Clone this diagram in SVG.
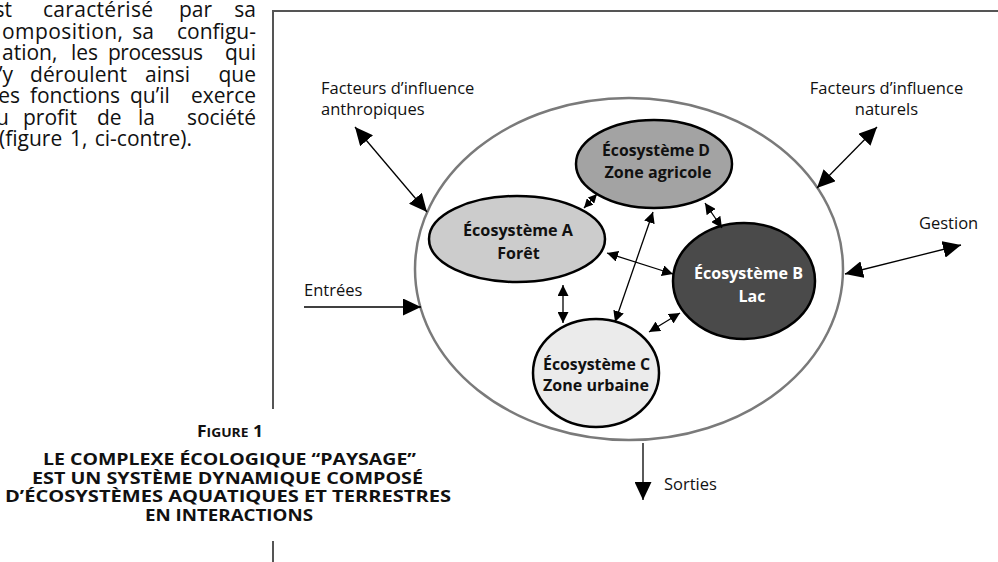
<svg xmlns="http://www.w3.org/2000/svg" width="998" height="562" viewBox="0 0 998 562">
<style>
  .para text { font-family: "Open Sans", "Noto Sans", "DejaVu Sans", sans-serif; font-size: 21px; fill: #111; }
  .para .e { text-anchor: end; }
  .lbl { font-family: "Open Sans", "Noto Sans", "DejaVu Sans", sans-serif; font-size: 16.5px; fill: #111; }
  .node { font-family: "Open Sans", "Noto Sans", "DejaVu Sans", sans-serif; font-size: 16px; font-weight: bold; fill: #111; text-anchor: middle; }
  .cap { font-family: "Open Sans", "Noto Sans", "DejaVu Sans", sans-serif; font-size: 16.5px; font-weight: bold; fill: #111; text-anchor: middle; }
  .frame { fill: none; stroke: #555; stroke-width: 2; }
  .eco { stroke: #000; stroke-width: 2.5; }
  .conn line { stroke: #000; stroke-width: 1.3; }
</style>
<defs>
  <marker id="big" viewBox="0 0 18 17" markerWidth="18" markerHeight="17" refX="18" refY="8.5" orient="auto-start-reverse" markerUnits="userSpaceOnUse">
    <path d="M0,0 L18,8.5 L0,17 z" fill="#000"/>
  </marker>
  <marker id="sm" viewBox="0 0 11 11" markerWidth="11" markerHeight="11" refX="11" refY="5.5" orient="auto-start-reverse" markerUnits="userSpaceOnUse">
    <path d="M0,0 L11,5.5 L0,11 z" fill="#000"/>
  </marker>
  <marker id="tiny" viewBox="0 0 9 9" markerWidth="9" markerHeight="9" refX="9" refY="4.5" orient="auto-start-reverse" markerUnits="userSpaceOnUse">
    <path d="M0,0 L9,4.5 L0,9 z" fill="#000"/>
  </marker>
</defs>

<g id="paragraph" class="para">
  <text class="e" x="12" y="17">st</text>
  <text x="43" y="17" textLength="110" lengthAdjust="spacing">caractérisé</text>
  <text x="179" y="17">par</text>
  <text class="e" x="256" y="17">sa</text>

  <text x="2" y="38.5" textLength="121" lengthAdjust="spacing">omposition,</text>
  <text class="e" x="154" y="38.5">sa</text>
  <text class="e" x="256" y="38.5">configu-</text>

  <text x="2" y="60">ation,</text>
  <text x="71" y="60">les</text>
  <text x="108" y="60" textLength="95" lengthAdjust="spacing">processus</text>
  <text class="e" x="256" y="60">qui</text>

  <text class="e" x="13" y="81.5">’y</text>
  <text x="30" y="81.5" textLength="97" lengthAdjust="spacing">déroulent</text>
  <text x="145" y="81.5">ainsi</text>
  <text class="e" x="256" y="81.5">que</text>

  <text class="e" x="20" y="103">es</text>
  <text x="30" y="103" textLength="90" lengthAdjust="spacing">fonctions</text>
  <text x="130" y="103">qu’il</text>
  <text class="e" x="256" y="103">exerce</text>

  <text class="e" x="9" y="124.5">u</text>
  <text x="23" y="124.5">profit</text>
  <text x="97" y="124.5">de</text>
  <text x="138" y="124.5">la</text>
  <text class="e" x="256" y="124.5">société</text>

  <text x="-1" y="146">(figure</text>
  <text x="70" y="146">1,</text>
  <text class="e" x="192" y="146">ci-contre).</text>
</g>

<g id="frame">
  <path class="frame" d="M273,409 V11 H998"/>
  <path class="frame" d="M273,541 V562"/>
</g>

<g id="caption">
  <text class="cap" x="230" y="437" textLength="66" lengthAdjust="spacingAndGlyphs">F<tspan font-size="13">IGURE</tspan> 1</text>
  <text class="cap" x="229.5" y="465" textLength="373" lengthAdjust="spacingAndGlyphs">LE COMPLEXE ÉCOLOGIQUE “PAYSAGE”</text>
  <text class="cap" x="227.5" y="483.5" textLength="391" lengthAdjust="spacingAndGlyphs">EST UN SYSTÈME DYNAMIQUE COMPOSÉ</text>
  <text class="cap" x="228" y="502" textLength="446" lengthAdjust="spacingAndGlyphs">D’ÉCOSYSTÈMES AQUATIQUES ET TERRESTRES</text>
  <text class="cap" x="229" y="520.5" textLength="168" lengthAdjust="spacingAndGlyphs">EN INTERACTIONS</text>
</g>

<g id="paysage">
  <ellipse cx="629" cy="269" rx="214" ry="171" fill="none" stroke="#7a7a7a" stroke-width="2.5"/>
</g>

<g id="eco-a">
  <ellipse class="eco" cx="517" cy="239" rx="88" ry="43" fill="#cccccc"/>
  <text class="node" x="518" y="236" textLength="110" lengthAdjust="spacingAndGlyphs">Écosystème A</text>
  <text class="node" x="518.5" y="258.5">Forêt</text>
</g>
<g id="eco-d">
  <ellipse class="eco" cx="654" cy="164" rx="78" ry="44" fill="#a3a3a3"/>
  <text class="node" x="656" y="156" textLength="108" lengthAdjust="spacingAndGlyphs">Écosystème D</text>
  <text class="node" x="658" y="178" textLength="107" lengthAdjust="spacingAndGlyphs">Zone agricole</text>
</g>
<g id="eco-b">
  <ellipse class="eco" cx="744" cy="281" rx="71" ry="58" fill="#4a4a4a"/>
  <text class="node" x="748.5" y="279" style="fill:#fff" textLength="109" lengthAdjust="spacingAndGlyphs">Écosystème B</text>
  <text class="node" x="752" y="302" style="fill:#fff">Lac</text>
</g>
<g id="eco-c">
  <ellipse class="eco" cx="596" cy="373" rx="63" ry="54" fill="#ebebeb"/>
  <text class="node" x="596.5" y="370" textLength="107" lengthAdjust="spacingAndGlyphs">Écosystème C</text>
  <text class="node" x="596" y="391" textLength="106" lengthAdjust="spacingAndGlyphs">Zone urbaine</text>
</g>

<g id="labels" class="lbl">
  <text x="321" y="94">Facteurs d’influence</text>
  <text x="321" y="115">anthropiques</text>
  <text x="886.5" y="94" text-anchor="middle">Facteurs d’influence</text>
  <text x="886.5" y="115" text-anchor="middle">naturels</text>
  <text x="919" y="229">Gestion</text>
  <text x="304" y="296">Entrées</text>
  <text x="664" y="490">Sorties</text>
</g>

<g id="connectors" class="conn">
  <line x1="355" y1="127" x2="427" y2="212" marker-start="url(#big)" marker-end="url(#big)"/>
  <line x1="877" y1="127" x2="817" y2="188" marker-start="url(#big)" marker-end="url(#big)"/>
  <line x1="961" y1="245" x2="845" y2="274" marker-start="url(#big)" marker-end="url(#big)"/>
  <line x1="304" y1="307" x2="421" y2="307" marker-end="url(#big)"/>
  <line x1="643" y1="443" x2="643" y2="500" marker-end="url(#big)"/>
  <line x1="584" y1="208" x2="597" y2="194" marker-start="url(#tiny)" marker-end="url(#tiny)"/>
  <line x1="705" y1="203" x2="722" y2="228" marker-start="url(#sm)" marker-end="url(#sm)"/>
  <line x1="607" y1="253" x2="673" y2="274" marker-start="url(#sm)" marker-end="url(#sm)"/>
  <line x1="615" y1="322" x2="653" y2="212" marker-start="url(#sm)" marker-end="url(#sm)"/>
  <line x1="563" y1="285" x2="563" y2="323" marker-start="url(#sm)" marker-end="url(#sm)"/>
  <line x1="649" y1="332" x2="680" y2="313" marker-start="url(#sm)" marker-end="url(#sm)"/>
</g>
</svg>
